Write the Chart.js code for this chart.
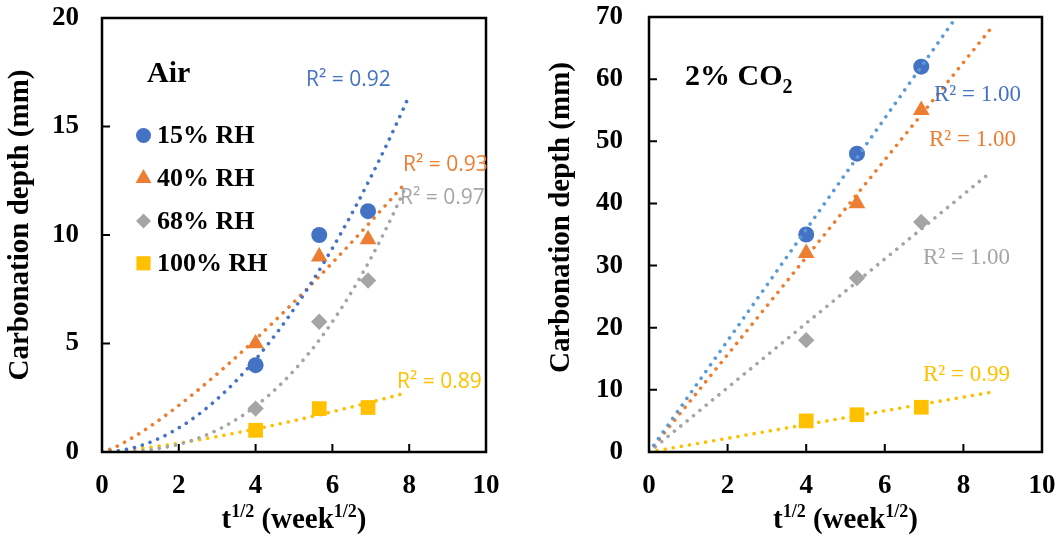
<!DOCTYPE html>
<html>
<head>
<meta charset="utf-8">
<title>Carbonation depth</title>
<script src="https://cdn.jsdelivr.net/npm/chart.js@4/dist/chart.umd.min.js"></script>
<style>
  html, body { margin: 0; padding: 0; background: #fff; }
  #wrap { position: relative; width: 1059px; height: 545px; overflow: hidden; }
  .panel { position: absolute; top: 0; height: 545px; }
  #pAir { left: 0; width: 530px; }
  #pCO2 { left: 530px; width: 529px; }
</style>
</head>
<body>
<div id="wrap">
  <div class="panel" id="pAir"><canvas id="cAir"></canvas></div>
  <div class="panel" id="pCO2"><canvas id="cCO2"></canvas></div>
</div>
<script>
// ---- series shared by both panels ----
const seriesNames  = ['15% RH', '40% RH', '68% RH', '100% RH'];
const seriesColors = ['#4472C4', '#ED7D31', '#A5A5A5', '#FFC000'];

// ---- natural air exposure: depth (mm) vs sqrt(weeks) ----
const airTime = [4, 5.657, 6.928];
const air15   = [4.0, 10.0, 11.1];
const air40   = [5.0, 9.0, 9.8];
const air68   = [2.0, 6.0, 7.9];
const air100  = [1.0, 2.0, 2.05];
const airR2   = ['R² = 0.92', 'R² = 0.93', 'R² = 0.97', 'R² = 0.89'];
const airTrendEnd = [8.0, 7.9, 7.9, 7.9];

// ---- accelerated exposure, 2% CO2 ----
const co2Time = [4, 5.292, 6.928];
const co2_15  = [35, 48, 62];
const co2_40  = [32, 40, 55];
const co2_68  = [18, 28, 37];
const co2_100 = [5, 6, 7.2];
const co2R2   = ['R² = 1.00', 'R² = 1.00', 'R² = 1.00', 'R² = 0.99'];
const co2TrendEnd = [8.7, 8.7, 8.65, 8.7];

// ---- axis ticks ----
const xTicks    = [0, 2, 4, 6, 8, 10];
const airYTicks = [0, 5, 10, 15, 20];
const co2YTicks = [0, 10, 20, 30, 40, 50, 60, 70];

// ---- styling ----
const SERIF = '"Liberation Serif", "Times New Roman", serif';
const pointStyles = ['circle', 'triangle', 'rectRot', 'rect'];
const pointSizes  = [8, 9.6, 8.2, 10.4];

// Power-law trend y = a*x^b, least squares in log space
function powerTrend(xs, ys, xEnd, steps) {
  const lx = xs.map(Math.log), ly = ys.map(Math.log);
  const mx = lx.reduce((s, v) => s + v, 0) / lx.length;
  const my = ly.reduce((s, v) => s + v, 0) / ly.length;
  let sxy = 0, sxx = 0;
  lx.forEach((v, i) => { sxy += (v - mx) * (ly[i] - my); sxx += (v - mx) * (v - mx); });
  const b = sxy / sxx, a = Math.exp(my - b * mx);
  const pts = [];
  for (let i = 0; i <= steps; i++) {
    const x = xEnd * i / steps;
    pts.push({ x, y: a * Math.pow(x, b) });
  }
  return pts;
}

// Linear trend through the origin y = k*x
function originTrend(xs, ys, xEnd) {
  let sxy = 0, sxx = 0;
  xs.forEach((x, i) => { sxy += x * ys[i]; sxx += x * x; });
  const k = sxy / sxx;
  return [{ x: 0, y: 0 }, { x: xEnd, y: k * xEnd }];
}

function buildDatasets(xs, seriesList, trendList, trendColors) {
  const trends = trendList.map((pts, i) => ({
    label: seriesNames[i] + ' trend',
    data: pts,
    showLine: true,
    borderColor: trendColors[i],
    borderWidth: 3.6,
    borderDash: [0.01, 8.2],
    borderCapStyle: 'round',
    pointRadius: 0,
    pointHoverRadius: 0,
    tension: 0,
    fill: false,
    order: 0
  }));
  const marks = seriesList.map((ys, i) => ({
    label: seriesNames[i],
    data: xs.map((x, j) => ({ x, y: ys[j] })),
    showLine: false,
    pointStyle: pointStyles[i],
    pointRadius: pointSizes[i],
    pointHoverRadius: pointSizes[i],
    pointBackgroundColor: seriesColors[i],
    pointBorderWidth: 0,
    order: 1
  }));
  return trends.concat(marks);
}

function drawMarker(ctx, style, r, x, y, color) {
  ctx.save();
  ctx.fillStyle = color;
  ctx.beginPath();
  if (style === 'circle') {
    ctx.arc(x, y, r, 0, Math.PI * 2);
  } else if (style === 'triangle') {
    ctx.moveTo(x, y - r);
    ctx.lineTo(x + r * Math.sin(2 * Math.PI / 3), y - r * Math.cos(2 * Math.PI / 3));
    ctx.lineTo(x + r * Math.sin(4 * Math.PI / 3), y - r * Math.cos(4 * Math.PI / 3));
  } else if (style === 'rectRot') {
    ctx.moveTo(x - r, y); ctx.lineTo(x, y - r); ctx.lineTo(x + r, y); ctx.lineTo(x, y + r);
  } else {
    const s = Math.SQRT1_2 * r;
    ctx.rect(x - s, y - s, 2 * s, 2 * s);
  }
  ctx.closePath();
  ctx.fill();
  ctx.restore();
}

// Draws frame, inward tick marks, axis titles, panel label, R² notes and legend
const decor = {
  id: 'decor',
  afterDraw(chart, args, o) {
    const { ctx, chartArea: a, scales: { x, y } } = chart;
    ctx.save();
    ctx.strokeStyle = '#000';
    ctx.lineWidth = 2;
    ctx.beginPath();
    x.ticks.forEach(t => {
      const px = x.getPixelForValue(t.value);
      ctx.moveTo(px, a.bottom); ctx.lineTo(px, a.bottom - 8);
    });
    y.ticks.forEach(t => {
      const py = y.getPixelForValue(t.value);
      ctx.moveTo(a.left, py); ctx.lineTo(a.left + 8, py);
    });
    ctx.stroke();
    ctx.lineWidth = 2.5;
    ctx.strokeRect(a.left, a.top, a.right - a.left, a.bottom - a.top);

    ctx.fillStyle = '#000';
    // y title
    ctx.save();
    ctx.translate(o.yTitle.x, o.yTitle.y);
    ctx.rotate(-Math.PI / 2);
    ctx.font = 'bold 29px ' + SERIF;
    ctx.textAlign = 'center';
    ctx.textBaseline = 'middle';
    ctx.fillText('Carbonation depth (mm)', 0, 0);
    ctx.restore();

    // x title with superscripts
    const parts = [['t', 0], ['1/2', 1], [' (week', 0], ['1/2', 1], [')', 0]];
    const mainFont = 'bold 29px ' + SERIF, supFont = 'bold 18px ' + SERIF;
    let w = 0;
    parts.forEach(p => { ctx.font = p[1] ? supFont : mainFont; w += ctx.measureText(p[0]).width; });
    let cx = (a.left + a.right) / 2 - w / 2;
    ctx.textAlign = 'left';
    ctx.textBaseline = 'alphabetic';
    parts.forEach(p => {
      ctx.font = p[1] ? supFont : mainFont;
      ctx.fillText(p[0], cx, o.xTitleBase - (p[1] ? 11 : 0));
      cx += ctx.measureText(p[0]).width;
    });

    // panel label
    let px = o.tag.x;
    o.tag.parts.forEach(p => {
      ctx.font = (p[1] ? 'bold 20px ' : 'bold 30px ') + SERIF;
      ctx.fillText(p[0], px, o.tag.base + (p[1] ? 8 : 0));
      px += ctx.measureText(p[0]).width;
    });

    // R² notes
    ctx.font = o.r2Font;
    ctx.textBaseline = 'middle';
    o.r2.forEach((txt, i) => {
      ctx.fillStyle = o.r2Colors[i];
      ctx.fillText(txt, o.r2Pos[i][0], o.r2Pos[i][1]);
    });

    // legend
    if (o.legend) {
      const L = o.legend;
      ctx.font = 'bold 26px ' + SERIF;
      seriesNames.forEach((name, i) => {
        const ry = L.rows[i];
        drawMarker(ctx, pointStyles[i], L.sizes[i], L.mx, ry, seriesColors[i]);
        ctx.fillStyle = '#000';
        ctx.textBaseline = 'middle';
        ctx.fillText(name, L.tx, ry + 1);
      });
    }
    ctx.restore();
  }
};

const tickFont = { family: SERIF, size: 27, weight: 'bold' };

// axis label overhang is handled by the fixed layout padding
function noOverhang(s) {
  s.paddingTop = 0; s.paddingBottom = 0; s.paddingLeft = 0; s.paddingRight = 0;
}

function makeScales(yMax, yTicks, yPad, yWidth) {
  return {
    x: {
      type: 'linear', min: 0, max: 10,
      afterBuildTicks: s => { s.ticks = xTicks.map(v => ({ value: v })); },
      afterFit: s => { s.height = 93; noOverhang(s); },
      grid: { display: false, drawTicks: false },
      border: { display: false },
      ticks: { font: tickFont, color: '#000', padding: 18, maxRotation: 0, autoSkip: false }
    },
    y: {
      type: 'linear', min: 0, max: yMax,
      afterBuildTicks: s => { s.ticks = yTicks.map(v => ({ value: v })); },
      afterFit: s => { s.width = yWidth; noOverhang(s); },
      grid: { display: false, drawTicks: false },
      border: { display: false },
      ticks: { font: tickFont, color: '#000', padding: yPad, autoSkip: false }
    }
  };
}

function makeChart(id, datasets, scales, padding, decorOpts) {
  return new Chart(document.getElementById(id), {
    type: 'scatter',
    data: { datasets },
    options: {
      responsive: true,
      maintainAspectRatio: false,
      animation: false,
      layout: { padding, autoPadding: false },
      scales,
      plugins: { legend: { display: false }, tooltip: { enabled: false }, decor: decorOpts }
    },
    plugins: [decor]
  });
}

// ---- Air panel ----
const airSeries = [air15, air40, air68, air100];
const airTrends = airSeries.map((ys, i) => powerTrend(airTime, ys, airTrendEnd[i], 80));
makeChart('cAir',
  buildDatasets(airTime, airSeries, airTrends, seriesColors),
  makeScales(20, airYTicks, 23, 102),
  { left: 0, top: 18, right: 44, bottom: 0 },
  {
    yTitle: { x: 21, y: 225 },
    xTitleBase: 528,
    tag: { x: 147, base: 82, parts: [['Air', 0]] },
    r2: airR2,
    r2Font: '21px "Open Sans", sans-serif',
    r2Colors: seriesColors,
    r2Pos: [[306, 80], [403, 165], [400, 198], [397, 382]],
    legend: { mx: 143.5, tx: 157, rows: [135.5, 178.3, 221, 263.3], sizes: [7.5, 9.2, 7.5, 10] }
  });

// ---- 2% CO2 panel ----
const co2Series = [co2_15, co2_40, co2_68, co2_100];
const co2Trends = co2Series.map((ys, i) => originTrend(co2Time, ys, co2TrendEnd[i]));
makeChart('cCO2',
  buildDatasets(co2Time, co2Series, co2Trends, ['#5B9BD5', '#ED7D31', '#A5A5A5', '#FFC000']),
  makeScales(70, co2YTicks, 26, 119),
  { left: 0, top: 17, right: 17, bottom: 0 },
  {
    yTitle: { x: 32, y: 217.5 },
    xTitleBase: 528,
    tag: { x: 155, base: 85, parts: [['2% CO', 0], ['2', 1]] },
    r2: co2R2,
    r2Font: '23px ' + SERIF,
    r2Colors: seriesColors,
    r2Pos: [[404, 95], [399, 140], [393, 258], [393, 375]],
    legend: null
  });
</script>
</body>
</html>
